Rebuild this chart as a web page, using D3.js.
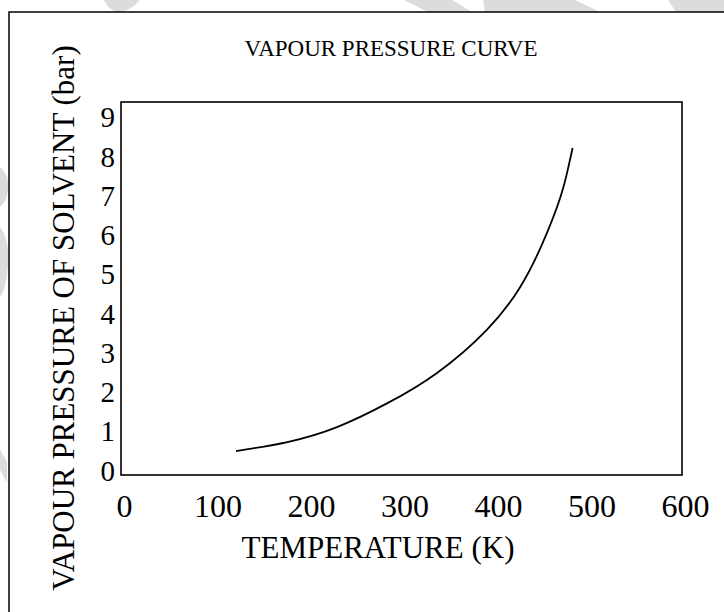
<!DOCTYPE html>
<html>
<head>
<meta charset="utf-8">
<script src="https://cdn.jsdelivr.net/npm/d3@7"></script>
<style>
  body { margin: 0; background: #fff; }
  svg { display: block; }
  text { font-family: "Liberation Serif", "Times New Roman", serif; fill: #000; }
</style>
</head>
<body>
<svg width="724" height="612"></svg>
<script>
// values
var temperature = [123, 178, 231, 285, 338, 391, 427, 451, 470, 479, 483];
var pressure    = [0.61, 0.84, 1.22, 1.83, 2.60, 3.69, 4.79, 5.91, 7.08, 7.90, 8.33];
var xTicks = [0, 100, 200, 300, 400, 500, 600];
var yTicks = [0, 1, 2, 3, 4, 5, 6, 7, 8, 9];

var svg = d3.select("svg");

// faint scan watermark bits round the frame
var marks = [
  "M104,0 L140,0 Q130,12 118,12 Q108,10 104,0 Z",
  "M404,0 L452,0 L472,12 L428,12 Z",
  "M483,0 L575,0 L600,12 L485,12 Z",
  "M668,0 L724,0 L724,12 L676,12 Z",
  "M0,167 Q10,175 8,190 Q6,203 0,207 Z",
  "M0,227 Q10,240 8,265 Q6,290 0,297 Z",
  "M0,450 L7,462 L7,483 L0,470 Z"
];
svg.selectAll("path.wm").data(marks).enter().append("path")
    .attr("class", "wm")
    .attr("d", function(d){ return d; })
    .attr("fill", "#dcdcdc");

// outer border (only top and left visible)
svg.append("rect")
    .attr("x", 9).attr("y", 12)
    .attr("width", 800).attr("height", 700)
    .attr("fill", "none")
    .attr("stroke", "#000")
    .attr("stroke-width", 1.5);

var plotLeft = 121, plotRight = 682, plotTop = 102, plotBottom = 475;

var x = d3.scaleLinear().domain([0, 600]).range([plotLeft, plotRight]);
var y = d3.scaleLinear().domain([0, 9.5]).range([plotBottom, plotTop]);

// x axis labels
var xAxis = d3.axisBottom(x).tickValues(xTicks).tickSize(0).tickPadding(19);
var gx = svg.append("g").attr("transform", "translate(0," + plotBottom + ")").call(xAxis);
gx.select(".domain").remove();
gx.selectAll("text")
    .style("font-family", "Liberation Serif")
    .style("font-size", "32px")
    .attr("dx", 3);

// y axis labels
var yAxis = d3.axisLeft(y).tickValues(yTicks).tickSize(0).tickPadding(6);
var gy = svg.append("g").attr("transform", "translate(" + plotLeft + ",0)").call(yAxis);
gy.select(".domain").remove();
gy.selectAll("text")
    .style("font-family", "Liberation Serif")
    .style("font-size", "29px")
    .attr("dy", "0.18em");

// plot frame
svg.append("rect")
    .attr("x", plotLeft).attr("y", plotTop)
    .attr("width", plotRight - plotLeft).attr("height", plotBottom - plotTop)
    .attr("fill", "none")
    .attr("stroke", "#000")
    .attr("stroke-width", 1.6);

// vapour pressure curve
var pts = temperature.map(function(t, i){ return [t, pressure[i]]; });
var line = d3.line()
    .x(function(d){ return x(d[0]); })
    .y(function(d){ return y(d[1]); })
    .curve(d3.curveNatural);

svg.append("path")
    .datum(pts)
    .attr("d", line)
    .attr("fill", "none")
    .attr("stroke", "#000")
    .attr("stroke-width", 1.8);

// titles
svg.append("text")
    .attr("x", 391).attr("y", 56)
    .attr("text-anchor", "middle")
    .style("font-size", "23px")
    .text("VAPOUR PRESSURE CURVE");

svg.append("text")
    .attr("x", 378).attr("y", 558)
    .attr("text-anchor", "middle")
    .style("font-size", "31px")
    .text("TEMPERATURE (K)");

svg.append("text")
    .attr("transform", "translate(74,318) rotate(-90)")
    .attr("text-anchor", "middle")
    .style("font-size", "31px")
    .text("VAPOUR PRESSURE OF SOLVENT (bar)");
</script>
</body>
</html>
